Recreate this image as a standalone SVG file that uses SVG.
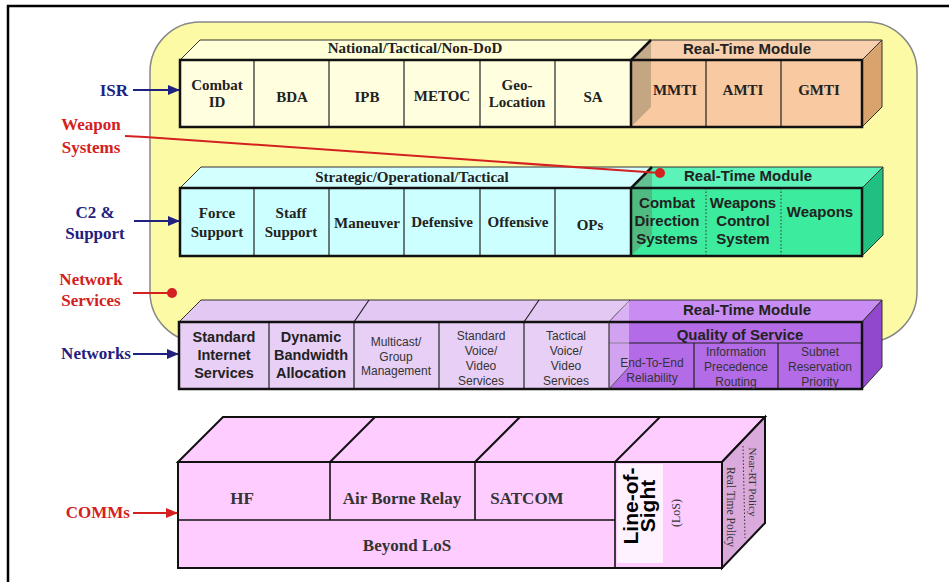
<svg xmlns="http://www.w3.org/2000/svg" width="949" height="582" viewBox="0 0 949 582">
  <defs>
    <marker id="arrNavy" markerWidth="12" markerHeight="10" refX="11" refY="5" orient="auto" markerUnits="userSpaceOnUse">
      <path d="M0,0 L12,5 L0,10 z" fill="#1f2080"/>
    </marker>
    <marker id="arrRed" markerWidth="12" markerHeight="10" refX="11" refY="5" orient="auto" markerUnits="userSpaceOnUse">
      <path d="M0,0 L12,5 L0,10 z" fill="#d42020"/>
    </marker>
  </defs>
  <style>
    .serif{font-family:"Liberation Serif","Times New Roman",serif;font-weight:bold;}
    .sans{font-family:"Liberation Sans",Arial,sans-serif;}
    .cell{font-size:15px;fill:#222;text-anchor:middle;}
    .rtm{font-size:15px;font-weight:bold;fill:#222;text-anchor:middle;}
    .front{stroke:#111;stroke-width:2.5;fill:none;}
    .face{stroke:#333;stroke-width:1;}
    .div{stroke:#222;stroke-width:1.2;}
    .dot{stroke:#333;stroke-width:1;stroke-dasharray:1.5 2;}
    .nb{font-size:14.5px;font-weight:bold;fill:#222;text-anchor:middle;}
    .ns{font-size:12px;fill:#333;text-anchor:middle;}
    .side{fill:#6e6e50;opacity:0.38;}
    .lblN{font-size:17px;fill:#1f2080;}
    .lblR{font-size:17px;fill:#d42020;}
    .comm{font-size:17px;fill:#333;text-anchor:middle;}
  </style>

  <rect width="949" height="582" fill="#ffffff"/>
  <!-- page frame -->
  <path d="M8,582 L8,6 L949,6" fill="none" stroke="#000" stroke-width="2.5"/>

  <!-- shared application region -->
  <rect id="region" x="150" y="22" width="767" height="320" rx="50" fill="#fdfaa5" stroke="#888" stroke-width="1.5"/>

  <!-- ISR block -->
  <g id="isr-block">
    <polygon points="180,60 200,40 651,40 631,60" fill="#ffffd8" class="face"/>
    <polygon points="631,60 651,40 882,40 862,60" fill="#f9d0ae" class="face"/>
    <polygon points="862,60 882,40 882,107 862,127" fill="#d9a36e" class="face"/>
    <rect x="180" y="60" width="451" height="67" fill="#ffffe0"/>
    <rect x="631" y="60" width="231" height="67" fill="#f9c9a2"/>
    <g class="div">
      <line x1="254" y1="60" x2="254" y2="127"/>
      <line x1="329" y1="60" x2="329" y2="127"/>
      <line x1="404" y1="60" x2="404" y2="127"/>
      <line x1="480" y1="60" x2="480" y2="127"/>
      <line x1="555" y1="60" x2="555" y2="127"/>
      <line x1="706" y1="60" x2="706" y2="127"/>
      <line x1="781" y1="60" x2="781" y2="127"/>
    </g>
    <polygon points="631,60 651,40 651,107 631,127" class="side"/>
    <rect x="180" y="60" width="682" height="67" class="front"/>
    <path d="M631,127 L631,60 L651,40" class="front"/>
    <text class="serif" x="415" y="53" font-size="15" fill="#222" text-anchor="middle">National/Tactical/Non-DoD</text>
    <text class="sans rtm" x="747" y="54">Real-Time Module</text>
    <g class="serif cell">
      <text x="217" y="90">Combat</text>
      <text x="217" y="107">ID</text>
      <text x="292" y="102">BDA</text>
      <text x="367" y="102">IPB</text>
      <text x="442" y="101">METOC</text>
      <text x="517" y="90">Geo-</text>
      <text x="517" y="107">Location</text>
      <text x="593" y="102">SA</text>
      <text x="675" y="95">MMTI</text>
      <text x="743" y="95">AMTI</text>
      <text x="819" y="95">GMTI</text>
    </g>
  </g>

  <!-- C2 and support block -->
  <g id="c2-block">
    <polygon points="180,188 201,167 652,167 631,188" fill="#d4ffff" class="face"/>
    <polygon points="631,188 652,167 883,167 862,188" fill="#5cf3b8" class="face"/>
    <polygon points="862,188 883,167 883,235 862,256" fill="#22c080" class="face"/>
    <rect x="180" y="188" width="451" height="68" fill="#ccffff"/>
    <rect x="631" y="188" width="231" height="68" fill="#3ceb9e"/>
    <g class="div">
      <line x1="254" y1="188" x2="254" y2="256"/>
      <line x1="329" y1="188" x2="329" y2="256"/>
      <line x1="404" y1="188" x2="404" y2="256"/>
      <line x1="480" y1="188" x2="480" y2="256"/>
      <line x1="555" y1="188" x2="555" y2="256"/>
    </g>
    <line x1="706" y1="188" x2="706" y2="256" class="dot"/>
    <line x1="781" y1="188" x2="781" y2="256" class="dot"/>
    <polygon points="631,188 652,167 652,235 631,256" class="side"/>
    <rect x="180" y="188" width="682" height="68" class="front"/>
    <path d="M631,256 L631,188 L652,167" class="front"/>
    <text class="serif" x="412" y="182" font-size="15" fill="#222" text-anchor="middle">Strategic/Operational/Tactical</text>
    <text class="sans rtm" x="748" y="181">Real-Time Module</text>
    <g class="serif cell">
      <text x="217" y="218">Force</text>
      <text x="217" y="237">Support</text>
      <text x="291" y="218">Staff</text>
      <text x="291" y="237">Support</text>
      <text x="367" y="228">Maneuver</text>
      <text x="442" y="227">Defensive</text>
      <text x="518" y="227">Offensive</text>
      <text x="590" y="230">OPs</text>
    </g>
    <g class="sans rtm">
      <text x="667" y="208">Combat</text>
      <text x="667" y="226">Direction</text>
      <text x="667" y="244">Systems</text>
      <text x="743" y="208">Weapons</text>
      <text x="743" y="226">Control</text>
      <text x="743" y="244">System</text>
      <text x="820" y="217">Weapons</text>
    </g>
  </g>

  <!-- network services block -->
  <g id="network-block">
    <polygon points="179,322 201,300 630,300 609,322" fill="#e2c8f2" class="face"/>
    <polygon points="609,322 630,300 882,300 862,322" fill="#c98cf2" class="face"/>
    <polygon points="862,322 882,300 882,367 862,389" fill="#9248cc" class="face"/>
    <line x1="354" y1="322" x2="369" y2="300" class="div"/>
    <line x1="524" y1="322" x2="539" y2="300" class="div"/>
    <rect x="179" y="322" width="430" height="67" fill="#e8cff5"/>
    <rect x="609" y="322" width="253" height="67" fill="#b46be8"/>
    <g class="div">
      <line x1="269" y1="322" x2="269" y2="389"/>
      <line x1="354" y1="322" x2="354" y2="389"/>
      <line x1="439" y1="322" x2="439" y2="389"/>
      <line x1="524" y1="322" x2="524" y2="389"/>
      <line x1="609" y1="343" x2="862" y2="343"/>
      <line x1="694" y1="343" x2="694" y2="389"/>
      <line x1="778" y1="343" x2="778" y2="389"/>
    </g>
    <polygon points="609,322 629,300 629,367 609,389" fill="#e8cff5" opacity="0.55"/>
    <line x1="609" y1="389" x2="629" y2="367" stroke="#555" stroke-width="1"/>
    <rect x="179" y="322" width="683" height="67" class="front"/>
    <line x1="609" y1="322" x2="609" y2="389" stroke="#333" stroke-width="1.2"/>
    <text class="sans rtm" x="747" y="315">Real-Time Module</text>
    <text class="sans" x="740" y="340" font-size="15" font-weight="bold" fill="#222" text-anchor="middle">Quality of Service</text>
    <g class="sans nb">
      <text x="224" y="342">Standard</text>
      <text x="224" y="360">Internet</text>
      <text x="224" y="378">Services</text>
      <text x="311" y="342">Dynamic</text>
      <text x="311" y="360">Bandwidth</text>
      <text x="311" y="378">Allocation</text>
    </g>
    <g class="sans ns">
      <text x="396" y="346">Multicast/</text>
      <text x="396" y="361">Group</text>
      <text x="396" y="375">Management</text>
      <text x="481" y="340">Standard</text>
      <text x="481" y="355">Voice/</text>
      <text x="481" y="370">Video</text>
      <text x="481" y="385">Services</text>
      <text x="566" y="340">Tactical</text>
      <text x="566" y="355">Voice/</text>
      <text x="566" y="370">Video</text>
      <text x="566" y="385">Services</text>
      <text x="652" y="367">End-To-End</text>
      <text x="652" y="382">Reliability</text>
      <text x="736" y="356">Information</text>
      <text x="736" y="371">Precedence</text>
      <text x="736" y="386">Routing</text>
      <text x="820" y="356">Subnet</text>
      <text x="820" y="371">Reservation</text>
      <text x="820" y="386">Priority</text>
    </g>
  </g>

  <!-- communications block -->
  <g id="comms-block">
    <polygon points="178,462 223,417 765,417 722,462" fill="#ffccff" stroke="#111" stroke-width="2"/>
    <polygon points="722,462 765,417 765,523 722,568" fill="#d9aadb" stroke="#111" stroke-width="2"/>
    <g stroke="#111" stroke-width="2">
      <line x1="330" y1="462" x2="375" y2="417"/>
      <line x1="475" y1="462" x2="520" y2="417"/>
      <line x1="615" y1="462" x2="660" y2="417"/>
    </g>
    <rect x="178" y="462" width="544" height="106" fill="#ffccff" stroke="#111" stroke-width="2"/>
    <g stroke="#111" stroke-width="1.6">
      <line x1="178" y1="520" x2="615" y2="520"/>
      <line x1="330" y1="462" x2="330" y2="520"/>
      <line x1="475" y1="462" x2="475" y2="520"/>
      <line x1="615" y1="462" x2="615" y2="568"/>
    </g>
    <rect x="617" y="464" width="46" height="99" fill="#fff2ff"/>
    <g class="serif comm">
      <text x="242" y="504">HF</text>
      <text x="402" y="504">Air Borne Relay</text>
      <text x="527" y="504">SATCOM</text>
      <text x="407" y="551">Beyond LoS</text>
    </g>
    <g transform="translate(640,506) rotate(-90)" class="sans" font-size="21" font-weight="bold" fill="#000" text-anchor="middle">
      <text x="0" y="-2">Line-of-</text>
      <text x="0" y="15">Sight</text>
    </g>
    <text transform="translate(673,513) rotate(-90)" x="0" y="7" font-family="Liberation Serif, serif" font-size="12" fill="#333" text-anchor="middle">(LoS)</text>
    <text transform="translate(753,482) rotate(90)" x="0" y="4" font-family="Liberation Serif, serif" font-size="11" fill="#333" text-anchor="middle">Near-RT Policy</text>
    <text transform="translate(731,507) rotate(90)" x="0" y="4" font-family="Liberation Serif, serif" font-size="11.5" fill="#333" text-anchor="middle">Real Time Policy</text>
    <line x1="743" y1="446" x2="745" y2="538" class="dot"/>
  </g>

  <!-- layer labels -->
  <g id="label-isr" class="serif lblN" text-anchor="end"><text x="128" y="96">ISR</text></g>
  <g id="label-weapons" class="serif lblR" text-anchor="middle">
    <text x="91" y="130">Weapon</text>
    <text x="91" y="153">Systems</text>
  </g>
  <g id="label-c2" class="serif lblN" text-anchor="middle">
    <text x="95" y="218">C2 &amp;</text>
    <text x="95" y="239">Support</text>
  </g>
  <g id="label-netsvc" class="serif lblR" text-anchor="middle">
    <text x="91" y="285">Network</text>
    <text x="91" y="306">Services</text>
  </g>
  <g id="label-networks" class="serif lblN" text-anchor="end"><text x="131" y="359">Networks</text></g>
  <g id="label-comms" class="serif lblR" text-anchor="end"><text x="130" y="518">COMMs</text></g>

  <!-- connectors -->
  <g id="connectors" fill="none" stroke-width="2">
    <line x1="133" y1="90" x2="179" y2="90" stroke="#1f2080" marker-end="url(#arrNavy)"/>
    <line x1="134" y1="221" x2="179" y2="221" stroke="#1f2080" marker-end="url(#arrNavy)"/>
    <line x1="133" y1="354" x2="178" y2="354" stroke="#1f2080" marker-end="url(#arrNavy)"/>
    <line x1="133" y1="513" x2="177" y2="513" stroke="#d42020" marker-end="url(#arrRed)"/>
    <polyline points="125,136 145,137 660,173" stroke="#d42020"/>
    <line x1="133" y1="293" x2="172" y2="293" stroke="#d42020"/>
    <circle cx="660" cy="173" r="5" fill="#d42020" stroke="none"/>
    <circle cx="172" cy="293" r="5" fill="#d42020" stroke="none"/>
  </g>
</svg>
